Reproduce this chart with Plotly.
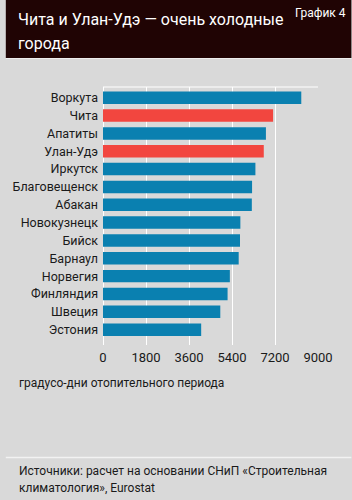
import plotly.graph_objects as go

cities = ["Воркута", "Чита", "Апатиты", "Улан-Удэ", "Иркутск", "Благовещенск", "Абакан",
          "Новокузнецк", "Бийск", "Барнаул", "Норвегия", "Финляндия", "Швеция", "Эстония"]
values = [8300, 7120, 6820, 6730, 6380, 6240, 6230, 5750, 5735, 5680, 5310, 5215, 4910, 4110]
highlight = ["Чита", "Улан-Удэ"]
tick_vals = [0, 1800, 3600, 5400, 7200, 9000]

BLUE = "#0a80b0"
RED = "#f2463f"
BG = "#d9d9d9"
DARK = "#200404"
FONT = "Roboto, sans-serif"

W, H = 352, 500
L, R, T, B = 99, 34, 87, 155
PH = H - T - B
PW = W - L - R


def py(p):
    return (H - B - p) / PH


def px(p):
    return (p - L) / PW


def f(size, color="#1a1a1a"):
    return dict(family=FONT, size=size, color=color)


colors = [RED if c in highlight else BLUE for c in cities]

fig = go.Figure(go.Bar(
    x=values, y=cities, orientation="h", marker_color=colors,
    marker_line_width=0, width=0.7, hoverinfo="x+y"))

shapes = [
    dict(type="rect", xref="paper", yref="paper", x0=px(0), x1=px(W), y0=py(58), y1=py(0),
         fillcolor=DARK, line_width=0, layer="below"),
    dict(type="line", xref="paper", yref="paper", x0=px(0), x1=px(W), y0=py(58.5), y1=py(58.5),
         line=dict(color="#eeeeee", width=1)),
    dict(type="line", xref="paper", yref="paper", x0=px(0), x1=px(W), y0=py(457.5), y1=py(457.5),
         line=dict(color="#f2f2f2", width=1.5)),
    dict(type="line", xref="x", yref="paper", x0=0, x1=9000, y0=1, y1=1,
         line=dict(color="white", width=1), layer="below"),
]

annotations = [
    dict(text="Чита и Улан-Удэ — очень холодные", xref="paper", yref="paper",
         x=px(10), y=py(19), xanchor="left", yanchor="middle", showarrow=False,
         font=f(16, "white")),
    dict(text="города", xref="paper", yref="paper",
         x=px(10), y=py(44), xanchor="left", yanchor="middle", showarrow=False,
         font=f(16, "white")),
    dict(text="График 4", xref="paper", yref="paper",
         x=px(349), y=py(13), xanchor="right", yanchor="middle", showarrow=False,
         font=f(12, "white")),
    dict(text="градусо-дни отопительного периода", xref="paper", yref="paper",
         x=px(11), y=py(383), xanchor="left", yanchor="middle", showarrow=False,
         font=f(12)),
    dict(text="Источники: расчет на основании СНиП «Строительная", xref="paper", yref="paper",
         x=px(11), y=py(471), xanchor="left", yanchor="middle", showarrow=False, font=f(12)),
    dict(text="климатология», Eurostat", xref="paper", yref="paper",
         x=px(11), y=py(488), xanchor="left", yanchor="middle", showarrow=False, font=f(12)),
]

fig.update_layout(
    width=W, height=H, margin=dict(l=L, r=R, t=T, b=B, pad=0),
    paper_bgcolor=BG, plot_bgcolor=BG, showlegend=False,
    shapes=shapes, annotations=annotations,
    font=f(12),
    bargap=0.3,
)
fig.update_xaxes(range=[0, 9000], tickvals=tick_vals, showgrid=True, gridcolor="white",
                 gridwidth=1, zeroline=True, zerolinecolor="white", zerolinewidth=1,
                 showline=False, ticks="", tickfont=f(13), ticklabelstandoff=3,
                 fixedrange=True)
fig.update_yaxes(categoryorder="array", categoryarray=cities, range=[13.86, -0.6],
                 showgrid=False, zeroline=False, ticks="", ticklabelstandoff=4,
                 tickfont=f(12.5), fixedrange=True, tickmode="array", tickvals=cities)

fig.write_html("out.html")
